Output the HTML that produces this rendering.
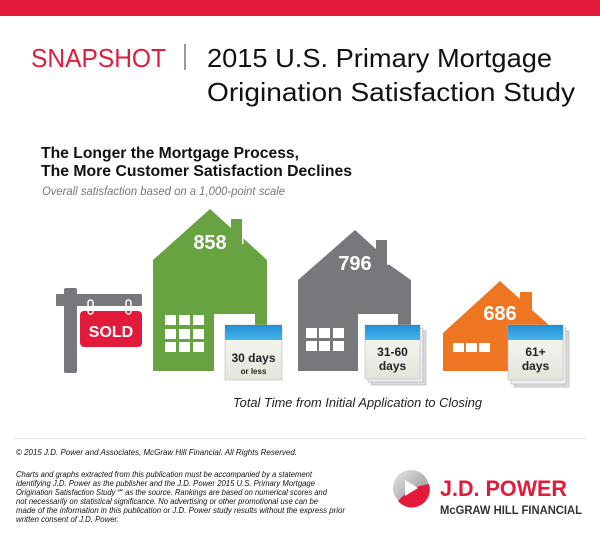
<!DOCTYPE html>
<html><head><meta charset="utf-8"><style>
html,body{margin:0;padding:0;background:#fff;width:600px;height:544px;overflow:hidden}
svg{display:block}
text{font-family:"Liberation Sans Narrow","Liberation Sans",sans-serif}
</style></head><body>
<svg width="600" height="544" viewBox="0 0 600 544" xmlns="http://www.w3.org/2000/svg">
<rect x="0" y="0" width="600" height="16" fill="#e31b3b"/>
<text x="31" y="67" font-size="26" fill="#e31b3b" textLength="135" lengthAdjust="spacingAndGlyphs" font-family="Liberation Sans">SNAPSHOT</text>
<rect x="184" y="44" width="2" height="26" fill="#999"/>
<text x="207" y="67" font-size="26" fill="#111" textLength="345" lengthAdjust="spacingAndGlyphs" font-family="Liberation Sans">2015 U.S. Primary Mortgage</text>
<text x="207" y="101" font-size="26" fill="#111" textLength="368" lengthAdjust="spacingAndGlyphs" font-family="Liberation Sans">Origination Satisfaction Study</text>
<text x="41" y="158" font-size="16" fill="#111" font-weight="bold" textLength="258" lengthAdjust="spacingAndGlyphs" font-family="Liberation Sans">The Longer the Mortgage Process,</text>
<text x="41" y="176" font-size="16" fill="#111" font-weight="bold" textLength="311" lengthAdjust="spacingAndGlyphs" font-family="Liberation Sans">The More Customer Satisfaction Declines</text>
<text x="42" y="195" font-size="11.5" fill="#777" font-style="italic" textLength="243" lengthAdjust="spacingAndGlyphs">Overall satisfaction based on a 1,000-point scale</text>

<!-- SOLD sign -->
<rect x="64" y="288" width="13" height="85" rx="2" fill="#77787b"/>
<rect x="56" y="294" width="86" height="12" rx="1" fill="#77787b"/>
<rect x="80" y="311" width="62" height="36" rx="4" fill="#e31b3b"/>
<rect x="88" y="300" width="5" height="14" rx="2.5" fill="none" stroke="#fff" stroke-width="1.5"/>
<rect x="126" y="300" width="5" height="14" rx="2.5" fill="none" stroke="#fff" stroke-width="1.5"/>
<text x="111" y="337" font-size="16" font-weight="bold" fill="#fff" text-anchor="middle" font-family="Liberation Sans">SOLD</text>

<!-- green house -->
<path d="M153 260 L210 209 L231 228 L231 219 L242 219 L242 237 L267 260 L267 371 L153 371Z" fill="#67a441"/>
<rect x="242" y="222" width="1.5" height="22" fill="#fff"/>
<text x="210" y="249" font-size="20" font-weight="bold" fill="#fff" text-anchor="middle" font-family="Liberation Sans">858</text>
<g fill="#fff">
<rect x="165" y="315" width="11" height="10"/><rect x="179" y="315" width="11" height="10"/><rect x="193" y="315" width="11" height="10"/>
<rect x="165" y="329" width="11" height="10"/><rect x="179" y="329" width="11" height="10"/><rect x="193" y="329" width="11" height="10"/>
<rect x="165" y="342" width="11" height="10"/><rect x="179" y="342" width="11" height="10"/><rect x="193" y="342" width="11" height="10"/>
<rect x="214" y="314" width="41" height="57"/>
</g>
<!-- gray house -->
<path d="M298 280 L355 230 L376 249 L376 240 L387 240 L387 263 L411 280 L411 371 L298 371Z" fill="#77787b"/>
<rect x="387" y="243" width="1.5" height="22" fill="#fff"/>
<text x="355" y="270" font-size="20" font-weight="bold" fill="#fff" text-anchor="middle" font-family="Liberation Sans">796</text>
<g fill="#fff">
<rect x="306" y="328" width="11" height="10"/><rect x="319" y="328" width="11" height="10"/><rect x="333" y="328" width="11" height="10"/>
<rect x="306" y="341" width="11" height="10"/><rect x="319" y="341" width="11" height="10"/><rect x="333" y="341" width="11" height="10"/>
<rect x="358" y="314" width="40" height="57"/>
</g>
<!-- orange house -->
<path d="M443 333 L500 281 L520 299 L520 292 L532 292 L532 310 L548 324 L548 371 L443 371Z" fill="#ee7623"/>
<text x="500" y="320" font-size="20" font-weight="bold" fill="#fff" text-anchor="middle" font-family="Liberation Sans">686</text>
<g fill="#fff">
<rect x="453" y="343" width="11" height="9"/><rect x="466" y="343" width="11" height="9"/><rect x="479" y="343" width="11" height="9"/>
</g>

<!-- calendars -->
<defs>
<linearGradient id="pg" x1="0" y1="0" x2="0" y2="1"><stop offset="0" stop-color="#fafaf5"/><stop offset="1" stop-color="#e4e4dc"/></linearGradient>
<linearGradient id="bl" x1="0" y1="0" x2="0" y2="1"><stop offset="0" stop-color="#1f8fd6"/><stop offset="1" stop-color="#4ab3ea"/></linearGradient>
</defs>
<g>
<rect x="225" y="325" width="57" height="55" fill="url(#pg)" stroke="#bbb" stroke-width="0.6"/>
<rect x="225" y="325" width="57" height="15" fill="url(#bl)"/>
<text x="253.5" y="362" font-size="12" font-weight="bold" fill="#222" text-anchor="middle" font-family="Liberation Sans">30 days</text>
<text x="253.5" y="374" font-size="8" font-weight="bold" fill="#222" text-anchor="middle" font-family="Liberation Sans">or less</text>
</g>
<g>
<rect x="371" y="331" width="55" height="54" fill="#ddd" stroke="#aaa" stroke-width="0.6"/>
<rect x="368" y="328" width="55" height="54" fill="#eee" stroke="#aaa" stroke-width="0.6"/>
<rect x="365" y="325" width="55" height="54" fill="url(#pg)" stroke="#bbb" stroke-width="0.6"/>
<rect x="365" y="325" width="55" height="15" fill="url(#bl)"/>
<text x="392.5" y="356" font-size="12" font-weight="bold" fill="#222" text-anchor="middle" font-family="Liberation Sans">31-60</text>
<text x="392.5" y="370" font-size="12" font-weight="bold" fill="#222" text-anchor="middle" font-family="Liberation Sans">days</text>
</g>
<g>
<rect x="514" y="331" width="55" height="56" fill="#ddd" stroke="#aaa" stroke-width="0.6"/>
<rect x="511" y="328" width="55" height="56" fill="#eee" stroke="#aaa" stroke-width="0.6"/>
<rect x="508" y="325" width="55" height="55" fill="url(#pg)" stroke="#bbb" stroke-width="0.6"/>
<rect x="508" y="325" width="55" height="15" fill="url(#bl)"/>
<text x="535.5" y="356" font-size="12" font-weight="bold" fill="#222" text-anchor="middle" font-family="Liberation Sans">61+</text>
<text x="535.5" y="370" font-size="12" font-weight="bold" fill="#222" text-anchor="middle" font-family="Liberation Sans">days</text>
</g>

<text x="233" y="407" font-size="13" font-style="italic" fill="#222" textLength="249" lengthAdjust="spacingAndGlyphs">Total Time from Initial Application to Closing</text>

<rect x="14" y="438" width="572" height="1" fill="#e4e4e4"/>
<g font-family="Liberation Sans" font-style="italic" fill="#111">
<text x="16" y="455" font-size="8.5" textLength="281" lengthAdjust="spacingAndGlyphs">© 2015 J.D. Power and Associates, McGraw Hill Financial. All Rights Reserved.</text>
<text x="16" y="477" font-size="8" textLength="296" lengthAdjust="spacingAndGlyphs">Charts and graphs extracted from this publication must be accompanied by a statement</text>
<text x="16" y="486" font-size="8" textLength="299" lengthAdjust="spacingAndGlyphs">identifying J.D. Power as the publisher and the J.D. Power 2015 U.S. Primary Mortgage</text>
<text x="16" y="495" font-size="8" textLength="311" lengthAdjust="spacingAndGlyphs">Origination Satisfaction Study℠ as the source. Rankings are based on numerical scores and</text>
<text x="16" y="504" font-size="8" textLength="302" lengthAdjust="spacingAndGlyphs">not necessarily on statistical significance. No advertising or other promotional use can be</text>
<text x="16" y="513" font-size="8" textLength="329" lengthAdjust="spacingAndGlyphs">made of the information in this publication or J.D. Power study results without the express prior</text>
<text x="16" y="522" font-size="8" textLength="103" lengthAdjust="spacingAndGlyphs">written consent of J.D. Power.</text>
</g>

<!-- logo -->
<defs><linearGradient id="lg" x1="0" y1="0" x2="1" y2="1"><stop offset="0" stop-color="#e6e6e6"/><stop offset="1" stop-color="#8a8a8a"/></linearGradient></defs>
<circle cx="411" cy="488" r="18" fill="url(#lg)"/>
<path d="M411 488 L429 484 A18 18 0 0 1 398 501Z" fill="#e31b3b"/>
<path d="M405 480 L418 488 L405 496Z" fill="#fff"/>
<text x="440" y="496" font-size="22" font-weight="bold" fill="#e31b3b" font-family="Liberation Sans" textLength="127" lengthAdjust="spacingAndGlyphs">J.D. POWER</text>
<text x="440" y="514" font-size="12" font-weight="bold" fill="#333" font-family="Liberation Sans" textLength="142" lengthAdjust="spacingAndGlyphs">McGRAW HILL FINANCIAL</text>
</svg>
</body></html>
